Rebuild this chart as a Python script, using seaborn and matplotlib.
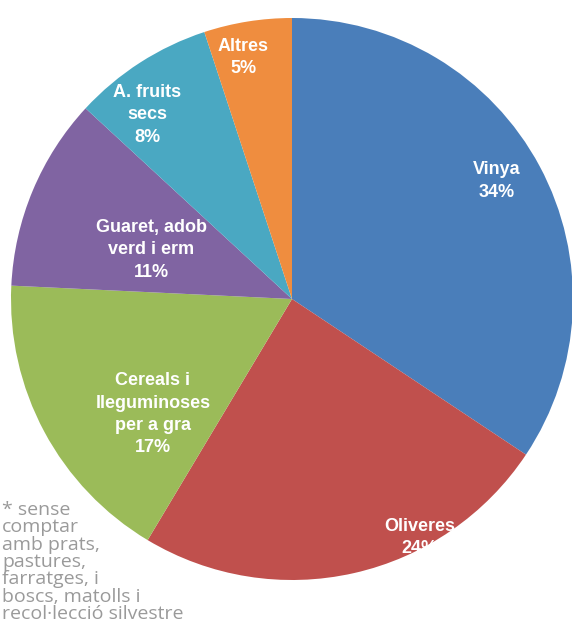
import matplotlib
matplotlib.use("Agg")
import matplotlib.pyplot as plt
import seaborn as sns

sns.set_theme(style="white")

# slice data, clockwise from 12 o'clock
categories = ["Vinya", "Oliveres", "Cereals i\nlleguminoses\nper a gra",
              "Guaret, adob\nverd i erm", "A. fruits\nsecs", "Altres"]
shares = [34, 24, 17, 11, 8, 5]
colors = ["#4a7eba", "#c0504d", "#9bbb59", "#8064a2", "#4aa8c2", "#ef8d3f"]

# where Excel dropped each label (in pie-radius units)
label_pos = [(0.73, 0.42), (0.455, -0.85), (-0.495, -0.41),
             (-0.50, 0.175), (-0.516, 0.655), (-0.174, 0.86)]

note = ("* sense\ncomptar\namb prats,\npastures,\nfarratges, i\n"
        "boscs, matolls i\nrecol\u00b7lecci\u00f3 silvestre")

W, H = 572, 635
fig = plt.figure(figsize=(W / 100, H / 100), dpi=100)
cx, cy, r = 292, 299, 281
ax = fig.add_axes([(cx - r) / W, (H - cy - r) / H, 2 * r / W, 2 * r / H])

ax.pie(shares, colors=colors, startangle=90, counterclock=False,
       wedgeprops=dict(linewidth=0))
ax.set_xlim(-1, 1)
ax.set_ylim(-1, 1)
ax.set_aspect("equal")
ax.axis("off")

for (x, y), name, v in zip(label_pos, categories, shares):
    ax.text(x, y, f"{name}\n{v}%", ha="center", va="center", color="white",
            fontsize=13, fontweight="bold", family="Liberation Sans",
            linespacing=1.4)

fig.text(2 / W, 1 - 501 / H, note, ha="left", va="top", color="#9a9a9a",
         fontsize=14, family="Open Sans", linespacing=0.95)

fig.savefig("out.png", dpi=100)
